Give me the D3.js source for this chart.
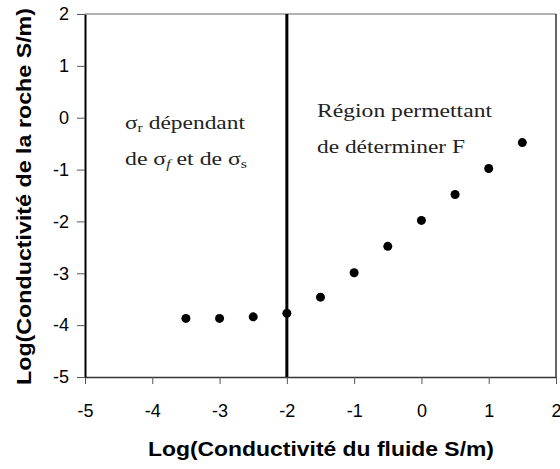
<!DOCTYPE html>
<html>
<head>
<meta charset="utf-8">
<script src="https://cdn.jsdelivr.net/npm/d3@7"></script>
<style>
body{margin:0;background:#fff}
svg{display:block}
</style>
</head>
<body>
<div id="chart"></div>
<script>
const xData = [-3.5, -3, -2.5, -2, -1.5, -1, -0.5, 0, 0.5, 1, 1.5]
const yData = [-3.87, -3.87, -3.84, -3.77, -3.46, -2.99, -2.48, -1.98, -1.48, -0.98, -0.48]
const xTicks = [-5, -4, -3, -2, -1, 0, 1, 2]
const yTicks = [-5, -4, -3, -2, -1, 0, 1, 2]
const divider = -2

const width = 560
const height = 469
const margin = { top: 14, left: 85 }
const innerWidth = 471
const innerHeight = 363
const sans = "'Liberation Sans', Arial, sans-serif"
const serif = "'Liberation Serif', 'Times New Roman', serif"

const svg = d3.select('#chart').append('svg')
  .attr('width', width)
  .attr('height', height)

const xScale = d3.scaleLinear().domain([-5, 2]).range([0, innerWidth])
const yScale = d3.scaleLinear().domain([-5, 2]).range([innerHeight, 0])

const g = svg.append('g')
  .attr('transform', `translate(${margin.left},${margin.top})`)

const xAxis = d3.axisBottom(xScale).tickValues(xTicks).tickSize(7).tickSizeOuter(0).tickPadding(20)
const xAxisGroup = g.append('g')
  .attr('transform', `translate(0,${innerHeight})`)
  .call(xAxis)
xAxisGroup.select('.domain').attr('stroke', '#333').attr('stroke-width', 1.5)
xAxisGroup.selectAll('.tick line').attr('stroke', '#555').attr('stroke-width', 1)
xAxisGroup.selectAll('.tick text')
  .style('font-family', sans)
  .style('font-size', '18px')
  .attr('fill', '#000')
  .text(d => d)

const yAxis = d3.axisLeft(yScale).tickValues(yTicks).tickSize(8).tickSizeOuter(0).tickPadding(8)
const yAxisGroup = g.append('g').call(yAxis)
yAxisGroup.select('.domain').attr('stroke', '#000').attr('stroke-width', 2)
yAxisGroup.selectAll('.tick line').attr('stroke', '#555').attr('stroke-width', 1)
yAxisGroup.selectAll('.tick text')
  .style('font-family', sans)
  .style('font-size', '18px')
  .attr('fill', '#000')
  .text(d => d)

// top and right frame
g.append('line')
  .attr('x1', 0).attr('x2', innerWidth).attr('y1', 0).attr('y2', 0)
  .attr('stroke', '#666').attr('stroke-width', 1.2)
g.append('line')
  .attr('x1', innerWidth).attr('x2', innerWidth).attr('y1', 0).attr('y2', innerHeight)
  .attr('stroke', '#333').attr('stroke-width', 1.5)

// divider line
g.append('line')
  .attr('x1', xScale(divider)).attr('x2', xScale(divider))
  .attr('y1', yScale(2)).attr('y2', yScale(-5))
  .attr('stroke', '#000').attr('stroke-width', 3)

g.selectAll('circle')
  .data(xData)
  .enter()
  .append('circle')
  .attr('cx', d => xScale(d))
  .attr('cy', (d, i) => yScale(yData[i]))
  .attr('r', 4.5)
  .attr('fill', '#000')

const notes = svg.append('g')
  .style('font-family', serif)
  .style('font-size', '18px')
  .attr('fill', '#222')

const l1 = notes.append('text').attr('x', 125).attr('y', 129)
  .attr('textLength', 120).attr('lengthAdjust', 'spacingAndGlyphs')
l1.append('tspan').text('σ')
l1.append('tspan').style('font-size', '12px').attr('dy', 3).text('r')
l1.append('tspan').attr('dy', -3).text(' dépendant')

const l2 = notes.append('text').attr('x', 125).attr('y', 165)
  .attr('textLength', 122).attr('lengthAdjust', 'spacingAndGlyphs')
l2.append('tspan').text('de σ')
l2.append('tspan').style('font-size', '12px').attr('dy', 3).attr('font-style', 'italic').text('f')
l2.append('tspan').attr('dy', -3).text(' et de σ')
l2.append('tspan').style('font-size', '12px').attr('dy', 3).text('s')

notes.append('text').attr('x', 317).attr('y', 117)
  .attr('textLength', 175).attr('lengthAdjust', 'spacingAndGlyphs')
  .text('Région permettant')
notes.append('text').attr('x', 317).attr('y', 153)
  .attr('textLength', 148).attr('lengthAdjust', 'spacingAndGlyphs')
  .text('de déterminer F')

svg.append('text')
  .text('Log(Conductivité du fluide S/m)')
  .attr('x', 148)
  .attr('y', 456)
  .attr('textLength', 346).attr('lengthAdjust', 'spacingAndGlyphs')
  .style('font-family', sans)
  .style('font-weight', 'bold')
  .style('font-size', '20px')

svg.append('text')
  .text('Log(Conductivité de la roche S/m)')
  .attr('transform', 'translate(31,385) rotate(-90)')
  .attr('textLength', 377).attr('lengthAdjust', 'spacingAndGlyphs')
  .style('font-family', sans)
  .style('font-weight', 'bold')
  .style('font-size', '20px')
</script>
</body>
</html>
